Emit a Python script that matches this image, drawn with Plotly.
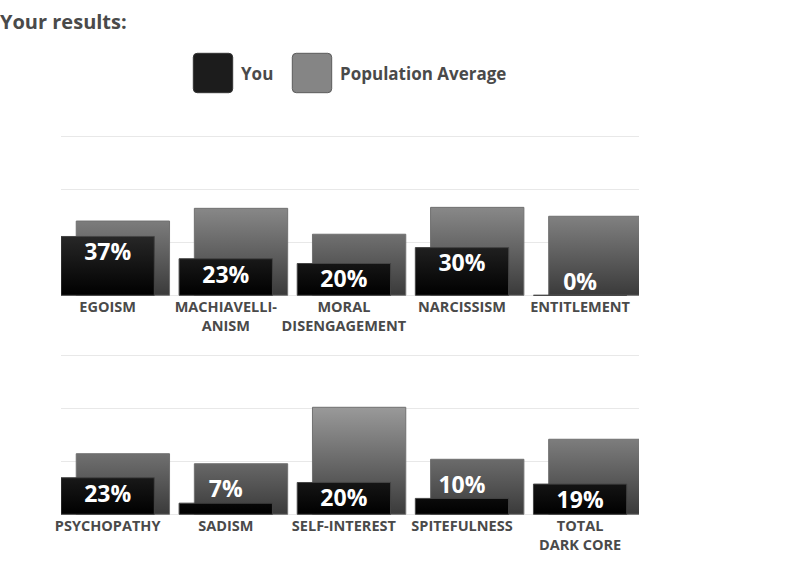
import plotly.graph_objects as go

# Data read from the results page
top_traits = ["EGOISM", "MACHIAVELLI-<br>ANISM", "MORAL<br>DISENGAGEMENT", "NARCISSISM", "ENTITLEMENT"]
top_you = [37, 23, 20, 30, 0]
top_avg = [46.7, 54.7, 38.4, 55.3, 49.7]

bottom_traits = ["PSYCHOPATHY", "SADISM", "SELF-INTEREST", "SPITEFULNESS", "TOTAL<br>DARK CORE"]
bottom_you = [23, 7, 20, 10, 19]
bottom_avg = [38.1, 31.8, 67.3, 34.6, 47.2]

FONT = "Open Sans"
GREY_TEXT = "#4a4a4a"
W, H = 810, 567
ML, MR = 61, 171
PW = W - ML - MR
PX_PER_PCT = 1.59  # vertical pixels per percent point

BAR_W = 0.79
YOU_LEFT = -0.395
AVG_LEFT = -0.266


def px_x(px):
    return (px - ML) / PW


def px_y(px):
    return (H - px) / H


def outlines(values, left):
    # rectangles as closed polygons so a vertical gradient can fill them
    xs, ys = [], []
    for i, v in enumerate(values):
        x0 = i + left
        x1 = x0 + BAR_W
        xs += [x0, x0, x1, x1, x0, None]
        ys += [0, v, v, 0, 0, None]
    return xs, ys


def rounded_box(left, top, size, r=4):
    x0, x1 = px_x(left), px_x(left + size)
    y0, y1 = px_y(top + size), px_y(top)
    rx, ry = r / PW, r / H
    return (f"M {x0 + rx},{y0} L {x1 - rx},{y0} Q {x1},{y0} {x1},{y0 + ry} "
            f"L {x1},{y1 - ry} Q {x1},{y1} {x1 - rx},{y1} L {x0 + rx},{y1} "
            f"Q {x0},{y1} {x0},{y1 - ry} L {x0},{y0 + ry} Q {x0},{y0} {x0 + rx},{y0} Z")


fig = go.Figure()

panels = [
    (top_you, top_avg, "x", "y"),
    (bottom_you, bottom_avg, "x2", "y2"),
]

for you, avg, xa, ya in panels:
    xs, ys = outlines(avg, AVG_LEFT)
    fig.add_trace(go.Scatter(
        x=xs, y=ys, xaxis=xa, yaxis=ya, mode="lines", fill="toself",
        line=dict(color="#707070", width=1),
        fillgradient=dict(type="vertical", start=0, stop=100,
                          colorscale=[[0, "#3a3a3a"], [1, "#c8c8c8"]]),
        hoverinfo="skip", showlegend=False,
    ))
    xs, ys = outlines(you, YOU_LEFT)
    fig.add_trace(go.Scatter(
        x=xs, y=ys, xaxis=xa, yaxis=ya, mode="lines", fill="toself",
        line=dict(color="#454545", width=1),
        fillgradient=dict(type="vertical", start=0, stop=100,
                          colorscale=[[0, "#000000"], [1, "#6a6a6a"]]),
        hoverinfo="skip", showlegend=False,
    ))
    inside = [v >= 15 for v in you]
    fig.add_trace(go.Scatter(
        x=list(range(len(you))), y=you, xaxis=xa, yaxis=ya, mode="markers+text",
        text=[f"{v}%" for v in you],
        textposition=["bottom center" if f else "top center" for f in inside],
        marker=dict(size=[9 if f else 0 for f in inside], opacity=0),
        textfont=dict(family=FONT, size=23, color="white", weight="bold"),
        cliponaxis=False, hoverinfo="skip", showlegend=False,
    ))

xaxis_common = dict(
    range=[YOU_LEFT, 4.4987], tickvals=list(range(5)), ticks="",
    showgrid=False, zeroline=False, showline=False, fixedrange=True,
    tickfont=dict(family=FONT, size=14.5, color=GREY_TEXT, weight="bold"),
)
yaxis_common = dict(
    range=[-1, 101], tickvals=[0, 100 / 3, 200 / 3, 100], showticklabels=False,
    showgrid=True, gridcolor="#e8e8e8", gridwidth=1, zeroline=False, fixedrange=True,
)

fig.update_layout(
    width=W, height=H,
    margin=dict(l=ML, r=MR, t=0, b=0),
    paper_bgcolor="white", plot_bgcolor="white",
    title=dict(text="Your results:", x=0, xref="container", xanchor="left",
               y=px_y(22), yref="container", yanchor="middle",
               font=dict(family=FONT, size=20, color=GREY_TEXT, weight="bold")),
    xaxis=dict(domain=[0, 1], anchor="y", ticktext=top_traits, **xaxis_common),
    yaxis=dict(domain=[px_y(295.3 + PX_PER_PCT), px_y(136.3 - PX_PER_PCT)], anchor="x",
               **yaxis_common),
    xaxis2=dict(domain=[0, 1], anchor="y2", ticktext=bottom_traits, **xaxis_common),
    yaxis2=dict(domain=[px_y(514.3 + PX_PER_PCT), px_y(355.3 - PX_PER_PCT)], anchor="x2",
                **yaxis_common),
    showlegend=False,
)

# hand-made legend with big rounded swatches
legend_items = [("You", 193.3, "#1c1c1c", "#333333"),
                ("Population Average", 292.3, "#858585", "#5a5a5a")]
for label, left, fill, edge in legend_items:
    fig.add_shape(type="path", xref="paper", yref="paper",
                  path=rounded_box(left, 53.3, 39.4),
                  fillcolor=fill, line=dict(color=edge, width=1))
    fig.add_annotation(text=label, xref="paper", yref="paper",
                       x=px_x(left + 46), y=px_y(73), xanchor="left", yanchor="middle",
                       showarrow=False,
                       font=dict(family=FONT, size=17, color=GREY_TEXT, weight="bold"))

fig.write_html("out.html", config={"displayModeBar": False},
               post_script="document.body.style.margin = '0';")
